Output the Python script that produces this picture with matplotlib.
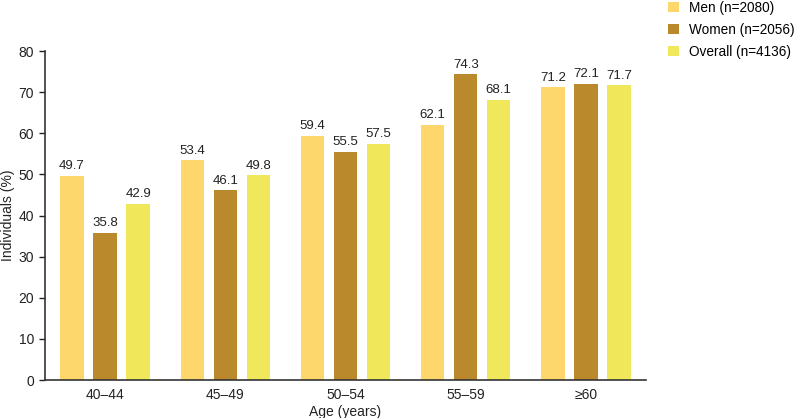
import matplotlib.pyplot as plt
from matplotlib.patches import Patch
import numpy as np

plt.rcParams['font.family'] = ['Liberation Sans', 'DejaVu Sans']

age_groups = ['40–44', '45–49', '50–54', '55–59', '≥60']
men = [49.7, 53.4, 59.4, 62.1, 71.2]
women = [35.8, 46.1, 55.5, 74.3, 72.1]
overall = [42.9, 49.8, 57.5, 68.1, 71.7]
series_labels = ['Men (n=2080)', 'Women (n=2056)', 'Overall (n=4136)']
colors = ['#FDD66C', '#B9892B', '#F0E85A']

fig = plt.figure(figsize=(8, 4.18), dpi=100)
ax = fig.add_axes([0.05625, 0.0909, 0.75125, 0.787])

x = np.arange(len(age_groups))
width = 0.195
offset = 0.275
for i, (vals, col) in enumerate(zip([men, women, overall], colors)):
    bars = ax.bar(x + (i - 1) * offset, vals, width, color=col)
    for b, v in zip(bars, vals):
        ax.annotate(f'{v:.1f}', (b.get_x() + b.get_width() / 2, v),
                    xytext=(0, 2.5), textcoords='offset points',
                    ha='center', va='bottom', fontsize=9.5, color='#222222')

ax.set_xlim(-0.5, 4.5)
ax.set_ylim(0, 80)
ax.set_yticks(range(0, 81, 10))
ax.set_xticks(x)
ax.set_xticklabels(age_groups)
ax.tick_params(axis='x', length=0, labelsize=10, pad=6, colors='#222222')
ax.tick_params(axis='y', length=4, width=1, labelsize=10, colors='#222222',
               direction='out', pad=4)
for s in ['top', 'right']:
    ax.spines[s].set_visible(False)
for s in ['left', 'bottom']:
    ax.spines[s].set_color('#333333')
    ax.spines[s].set_linewidth(1.2)
ax.set_xlabel('Age (years)', fontsize=10, color='#222222', labelpad=2)
ax.set_ylabel('Individuals (%)', fontsize=10, color='#222222', labelpad=2)

handles = [Patch(facecolor=c, edgecolor='none') for c in colors]
fig.legend(handles, series_labels, loc='upper left', bbox_to_anchor=(0.82, 1.028),
           frameon=False, fontsize=9.8, handlelength=0.8, handleheight=0.8,
           labelspacing=0.6, handletextpad=0.75)

fig.savefig('out.png', dpi=100)
